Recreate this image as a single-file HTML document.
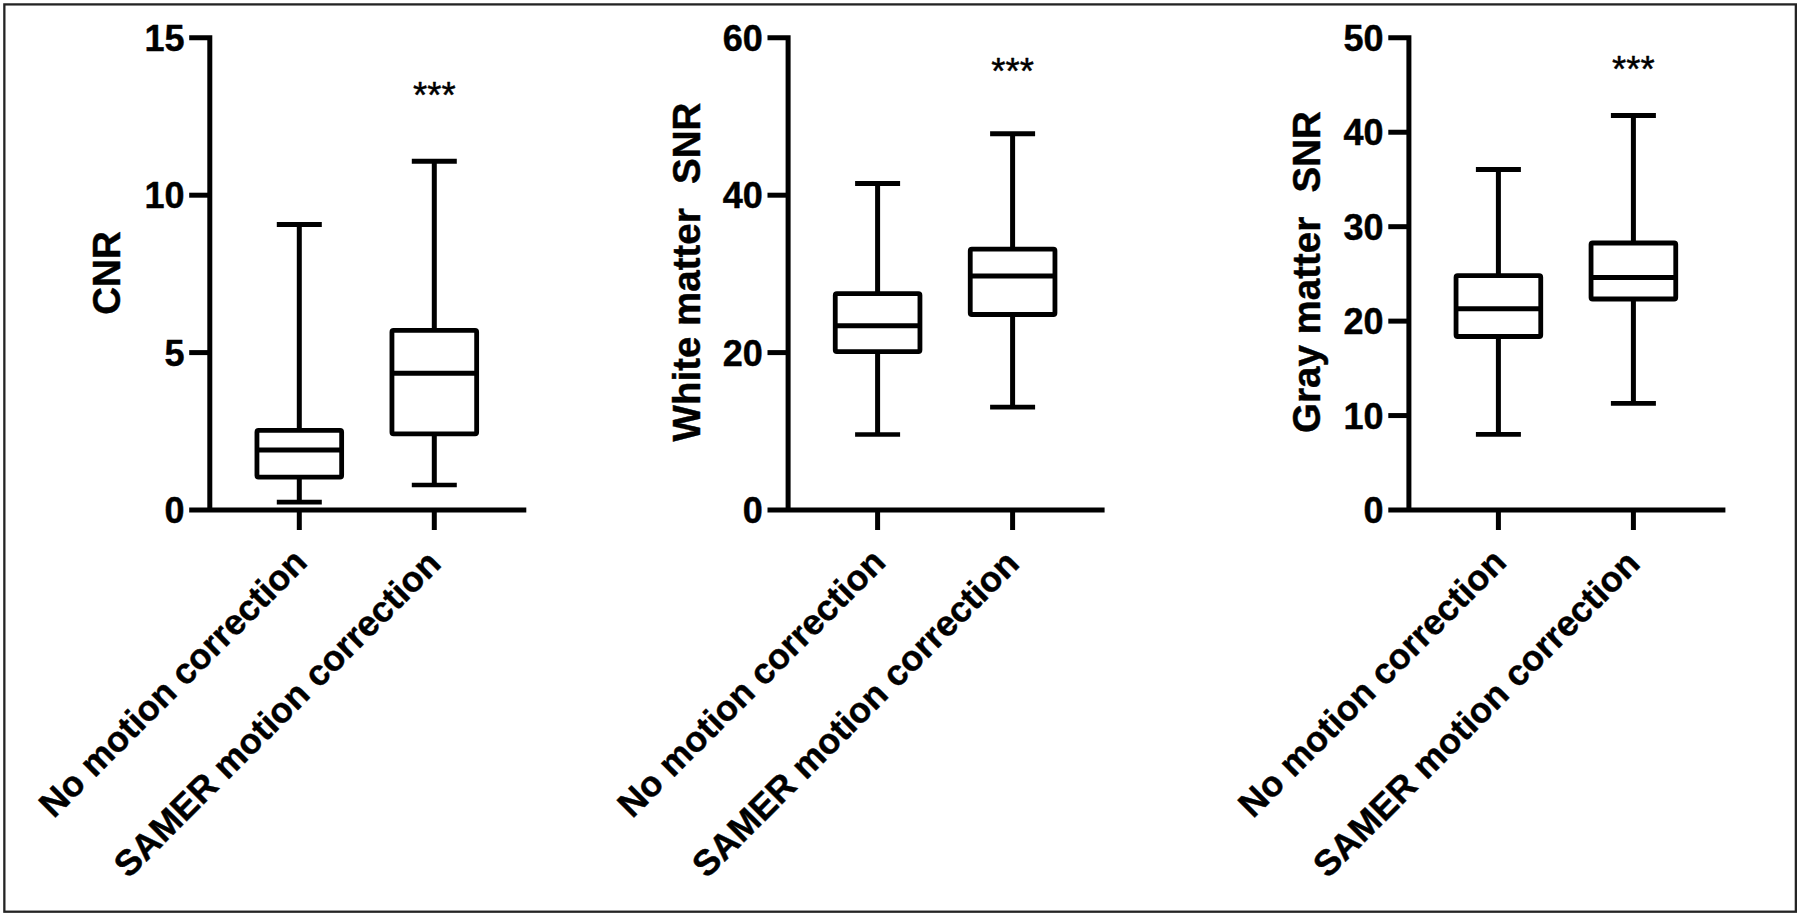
<!DOCTYPE html>
<html lang="en">
<head>
<meta charset="utf-8">
<title>CNR, white matter SNR and gray matter SNR box plots</title>
<style>
  html, body { margin: 0; padding: 0; background: #ffffff; }
  body { width: 1800px; height: 916px; overflow: hidden; }
  svg { display: block; }
  .ln { stroke: #000; stroke-width: 5.00px; fill: none; stroke-linecap: butt; stroke-linejoin: miter; }
  .bx { stroke: #000; stroke-width: 4.8px; fill: #fff; stroke-linejoin: round; }
  .tk { font-family: "Liberation Sans", Arial, Helvetica, sans-serif; font-weight: bold; font-size: 36px; fill: #000; text-anchor: end; }
  .xl { font-family: "Liberation Sans", Arial, Helvetica, sans-serif; font-weight: bold; font-size: 35.7px; fill: #000; text-anchor: end; }
  text { stroke: #000; stroke-width: 0.45px; stroke-linejoin: round; }
  .yt { font-family: "Liberation Sans", Arial, Helvetica, sans-serif; font-weight: bold; font-size: 38.5px; fill: #000; text-anchor: middle; white-space: pre; }
  .st { font-family: "Liberation Sans", Arial, Helvetica, sans-serif; font-weight: normal; font-size: 36.5px; fill: #000; text-anchor: middle; }
</style>
</head>
<body>
<svg width="1800" height="916" viewBox="0 0 1800 916">
<rect x="0" y="0" width="1800" height="916" fill="#ffffff"/>
<rect x="4.35" y="4.4" width="1791.5" height="907.3" fill="none" stroke="#242424" stroke-width="2.3"/>

<g>
<path class="ln" d="M189.20 37.80 H209.80 V510.00"/>
<path class="ln" d="M189.20 510.00 H526.30"/>
<text class="tk" x="184.50" y="523.10">0</text>
<path class="ln" d="M189.20 352.60 H209.80"/>
<text class="tk" x="184.50" y="365.70">5</text>
<path class="ln" d="M189.20 195.20 H209.80"/>
<text class="tk" x="184.50" y="208.30">10</text>
<text class="tk" x="184.50" y="50.90">15</text>
<text class="yt" xml:space="preserve" transform="translate(120.00 273.00) rotate(-90)">CNR</text>
<path class="ln" d="M299.30 224.40 V502.20"/>
<path class="ln" d="M276.80 224.40 H321.80"/>
<path class="ln" style="stroke-width:4.7" d="M276.80 502.20 H321.80"/>
<rect class="bx" x="256.95" y="430.40" width="84.70" height="46.80" rx="1.6"/>
<path class="ln" d="M256.95 449.90 H341.65"/>
<path class="ln" d="M299.30 510.00 V530.00"/>
<text class="xl" transform="translate(309.00 564.10) rotate(-45)">No motion correction</text>
<path class="ln" d="M434.30 161.20 V485.00"/>
<path class="ln" d="M411.80 161.20 H456.80"/>
<path class="ln" style="stroke-width:4.7" d="M411.80 485.00 H456.80"/>
<rect class="bx" x="391.95" y="330.40" width="84.70" height="103.40" rx="1.6"/>
<path class="ln" d="M391.95 373.20 H476.65"/>
<path class="ln" d="M434.30 510.00 V530.00"/>
<text class="xl" style="font-size:35.85px" transform="translate(442.70 565.40) rotate(-45)">SAMER motion correction</text>
<text class="st" x="434.30" y="108.00">***</text>
</g>
<g>
<path class="ln" d="M767.50 37.80 H788.10 V510.00"/>
<path class="ln" d="M767.50 510.00 H1104.60"/>
<text class="tk" x="762.80" y="523.10">0</text>
<path class="ln" d="M767.50 352.60 H788.10"/>
<text class="tk" x="762.80" y="365.70">20</text>
<path class="ln" d="M767.50 195.20 H788.10"/>
<text class="tk" x="762.80" y="208.30">40</text>
<text class="tk" x="762.80" y="50.90">60</text>
<text class="yt" xml:space="preserve" transform="translate(700.00 272.00) rotate(-90)">White matter  <tspan dx="3">SNR</tspan></text>
<path class="ln" d="M877.60 183.40 V434.50"/>
<path class="ln" d="M855.10 183.40 H900.10"/>
<path class="ln" style="stroke-width:4.7" d="M855.10 434.50 H900.10"/>
<rect class="bx" x="835.25" y="293.70" width="84.70" height="58.00" rx="1.6"/>
<path class="ln" d="M835.25 325.80 H919.95"/>
<path class="ln" d="M877.60 510.00 V530.00"/>
<text class="xl" transform="translate(887.30 564.10) rotate(-45)">No motion correction</text>
<path class="ln" d="M1012.60 133.70 V407.10"/>
<path class="ln" d="M990.10 133.70 H1035.10"/>
<path class="ln" style="stroke-width:4.7" d="M990.10 407.10 H1035.10"/>
<rect class="bx" x="970.25" y="249.20" width="84.70" height="65.30" rx="1.6"/>
<path class="ln" d="M970.25 276.00 H1054.95"/>
<path class="ln" d="M1012.60 510.00 V530.00"/>
<text class="xl" style="font-size:35.85px" transform="translate(1021.00 565.40) rotate(-45)">SAMER motion correction</text>
<text class="st" x="1012.60" y="84.00">***</text>
</g>
<g>
<path class="ln" d="M1388.30 37.80 H1408.90 V510.00"/>
<path class="ln" d="M1388.30 510.00 H1725.40"/>
<text class="tk" x="1383.60" y="523.10">0</text>
<path class="ln" d="M1388.30 415.56 H1408.90"/>
<text class="tk" x="1383.60" y="428.66">10</text>
<path class="ln" d="M1388.30 321.12 H1408.90"/>
<text class="tk" x="1383.60" y="334.22">20</text>
<path class="ln" d="M1388.30 226.68 H1408.90"/>
<text class="tk" x="1383.60" y="239.78">30</text>
<path class="ln" d="M1388.30 132.24 H1408.90"/>
<text class="tk" x="1383.60" y="145.34">40</text>
<text class="tk" x="1383.60" y="50.90">50</text>
<text class="yt" xml:space="preserve" transform="translate(1320.30 272.00) rotate(-90)">Gray matter  <tspan dx="3">SNR</tspan></text>
<path class="ln" d="M1498.40 169.50 V434.30"/>
<path class="ln" d="M1475.90 169.50 H1520.90"/>
<path class="ln" style="stroke-width:4.7" d="M1475.90 434.30 H1520.90"/>
<rect class="bx" x="1456.05" y="275.70" width="84.70" height="60.80" rx="1.6"/>
<path class="ln" d="M1456.05 308.80 H1540.75"/>
<path class="ln" d="M1498.40 510.00 V530.00"/>
<text class="xl" transform="translate(1508.10 564.10) rotate(-45)">No motion correction</text>
<path class="ln" d="M1633.40 115.50 V403.30"/>
<path class="ln" d="M1610.90 115.50 H1655.90"/>
<path class="ln" style="stroke-width:4.7" d="M1610.90 403.30 H1655.90"/>
<rect class="bx" x="1591.05" y="243.00" width="84.70" height="56.00" rx="1.6"/>
<path class="ln" d="M1591.05 277.50 H1675.75"/>
<path class="ln" d="M1633.40 510.00 V530.00"/>
<text class="xl" style="font-size:35.85px" transform="translate(1641.80 565.40) rotate(-45)">SAMER motion correction</text>
<text class="st" x="1633.40" y="82.00">***</text>
</g>
</svg>
</body>
</html>
